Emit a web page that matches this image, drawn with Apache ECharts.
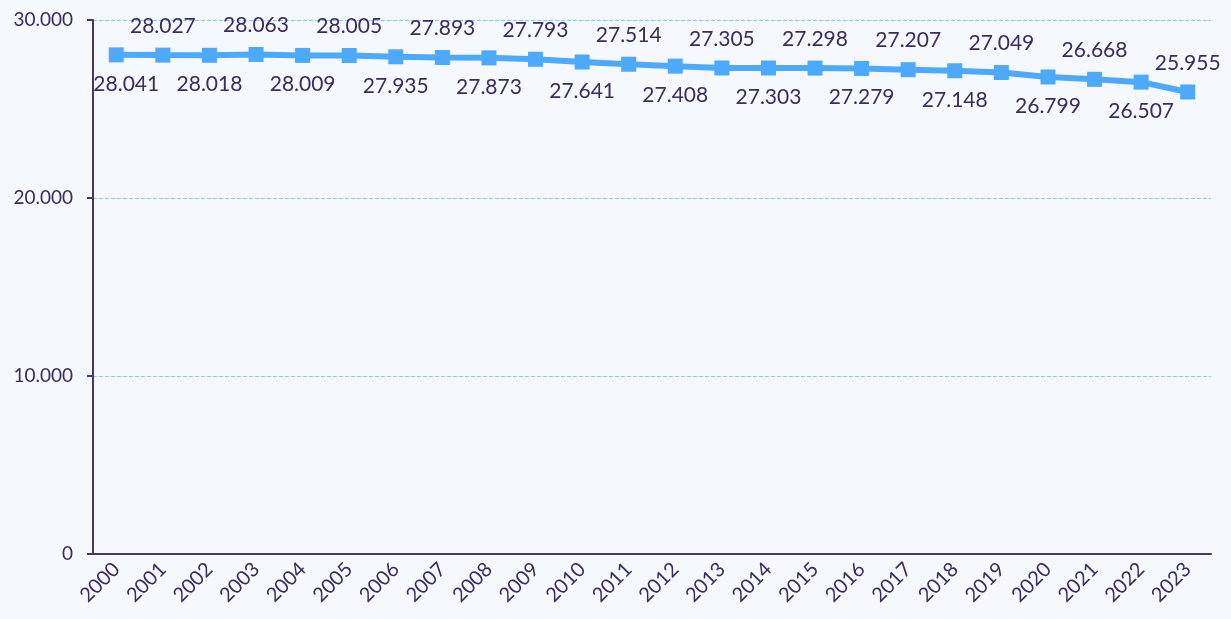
<!DOCTYPE html>
<html>
<head>
<meta charset="utf-8">
<script src="https://cdn.jsdelivr.net/npm/echarts@6/dist/echarts.min.js"></script>
<style>
  html, body { margin: 0; padding: 0; background: #f5f8fe; }
  #main { width: 1231px; height: 619px; }
</style>
</head>
<body>
<div id="main"></div>
<script>
var years = ['2000', '2001', '2002', '2003', '2004', '2005', '2006', '2007', '2008', '2009', '2010', '2011',
  '2012', '2013', '2014', '2015', '2016', '2017', '2018', '2019', '2020', '2021', '2022', '2023'];
var values = [28041, 28027, 28018, 28063, 28009, 28005, 27935, 27893, 27873, 27793, 27641, 27514,
  27408, 27305, 27303, 27298, 27279, 27207, 27148, 27049, 26799, 26668, 26507, 25955];

var textColor = '#3d2b5a';
var fontFamily = 'Lato';

// 28041 -> "28.041"
function fmt(v) {
  return String(v).replace(/\B(?=(\d{3})+(?!\d))/g, '.');
}

var chart = echarts.init(document.getElementById('main'), null, { renderer: 'canvas' });

// labels alternate below / above the line, first one nudged off the y axis
var seriesData = values.map(function (v, i) {
  var label = { position: i % 2 === 0 ? 'bottom' : 'top' };
  if (i === 0) label.offset = [10, 0];
  return { value: v, label: label };
});

var option = {
  backgroundColor: '#f5f8fe',
  animation: false,
  grid: {
    left: 93,
    right: 20,
    top: 20,
    bottom: 65
  },
  xAxis: {
    type: 'category',
    data: years,
    boundaryGap: true,
    axisLine: { lineStyle: { color: '#4a3768', width: 2 } },
    axisTick: { alignWithLabel: true, length: 6, lineStyle: { color: '#4a3768', width: 2 } },
    axisLabel: {
      rotate: 45,
      color: textColor,
      fontFamily: fontFamily,
      fontSize: 20,
      margin: 12
    }
  },
  yAxis: {
    type: 'value',
    min: 0,
    max: 30000,
    interval: 10000,
    axisLine: { show: true, lineStyle: { color: '#4a3768', width: 2 } },
    axisTick: { show: true, length: 6, lineStyle: { color: '#4a3768', width: 2 } },
    splitLine: { lineStyle: { color: '#80c8fb', type: 'dashed', width: 1 } },
    axisLabel: {
      color: textColor,
      fontFamily: fontFamily,
      fontSize: 19,
      margin: 20,
      formatter: fmt
    }
  },
  series: [{
    type: 'line',
    data: seriesData,
    symbol: 'rect',
    symbolSize: 15,
    lineStyle: { color: '#4da9fb', width: 6 },
    itemStyle: { color: '#4da9fb' },
    label: {
      show: true,
      distance: 11,
      color: textColor,
      fontFamily: fontFamily,
      fontSize: 21,
      formatter: function (p) { return fmt(p.value); }
    }
  }]
};

chart.setOption(option);
</script>
</body>
</html>
